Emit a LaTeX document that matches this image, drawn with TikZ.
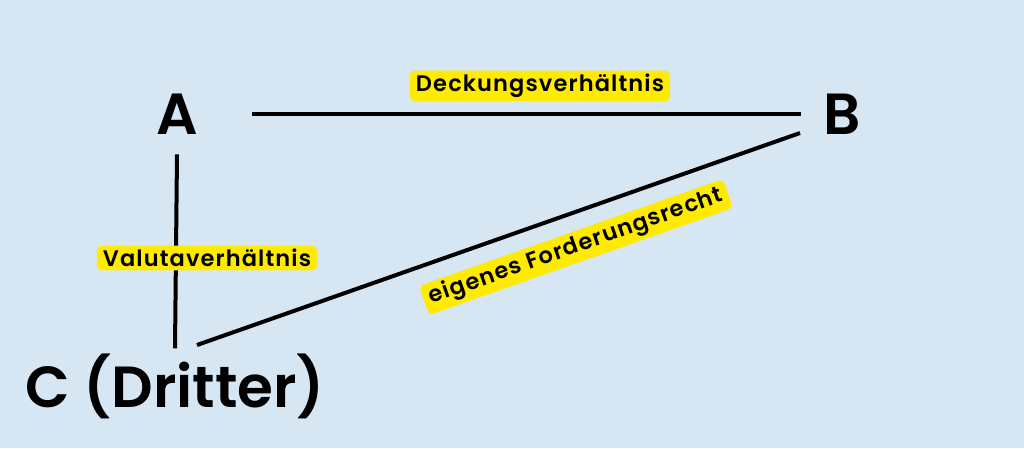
\documentclass[tikz,border=0pt]{standalone}
\usepackage{fontspec}
\setmainfont{Poppins}[BoldFont={* SemiBold}]
\newfontfamily\tagfont{Poppins}[UprightFont={* SemiBold}, LetterSpace=5]
\usetikzlibrary{positioning,calc}
\definecolor{bgblue}{RGB}{214,230,243}
\definecolor{tagyellow}{RGB}{255,235,0}

\begin{document}
\begin{tikzpicture}[x=1pt, y=-1pt,
    party/.style={font=\fontsize{58}{60}\selectfont\bfseries, inner sep=0pt},
    tag/.style={fill=tagyellow, rounded corners=5pt, inner xsep=6pt, inner ysep=3.5pt,
        font=\tagfont\fontsize{22.5}{24}\selectfont},
    link/.style={line width=4pt}]

% Background
\fill[bgblue] (0, 0) rectangle (1024, 448);
\useasboundingbox (0, 0) rectangle (1024, 448);

% Parties
\node[party] (A) at (177, 114) {A};
\node[party] (B) at (842, 114) {B};
\node[party] (C) at (175, 386) {C (Dritter)};

% Connectors
\draw[link, shorten <=54pt, shorten >=22pt] (A.east) -- (A.east -| B.west);
\draw[link] ($(A.south)+(0, 20)$) -- ($(C.north)+(0, -5)$);
\coordinate (cfoot) at (197, 345);
\coordinate (bfoot) at (800, 133);
\draw[link] (cfoot) -- (bfoot);

% Labels
\node[tag] (deckung) at (540, 86) {Deckungsverhältnis};
\node[tag] (valuta) at (207, 258) {Valutaverhältnis};
\node[tag, rotate=19.4] (forderung) at (576, 247) {eigenes Forderungsrecht};

\end{tikzpicture}
\end{document}
